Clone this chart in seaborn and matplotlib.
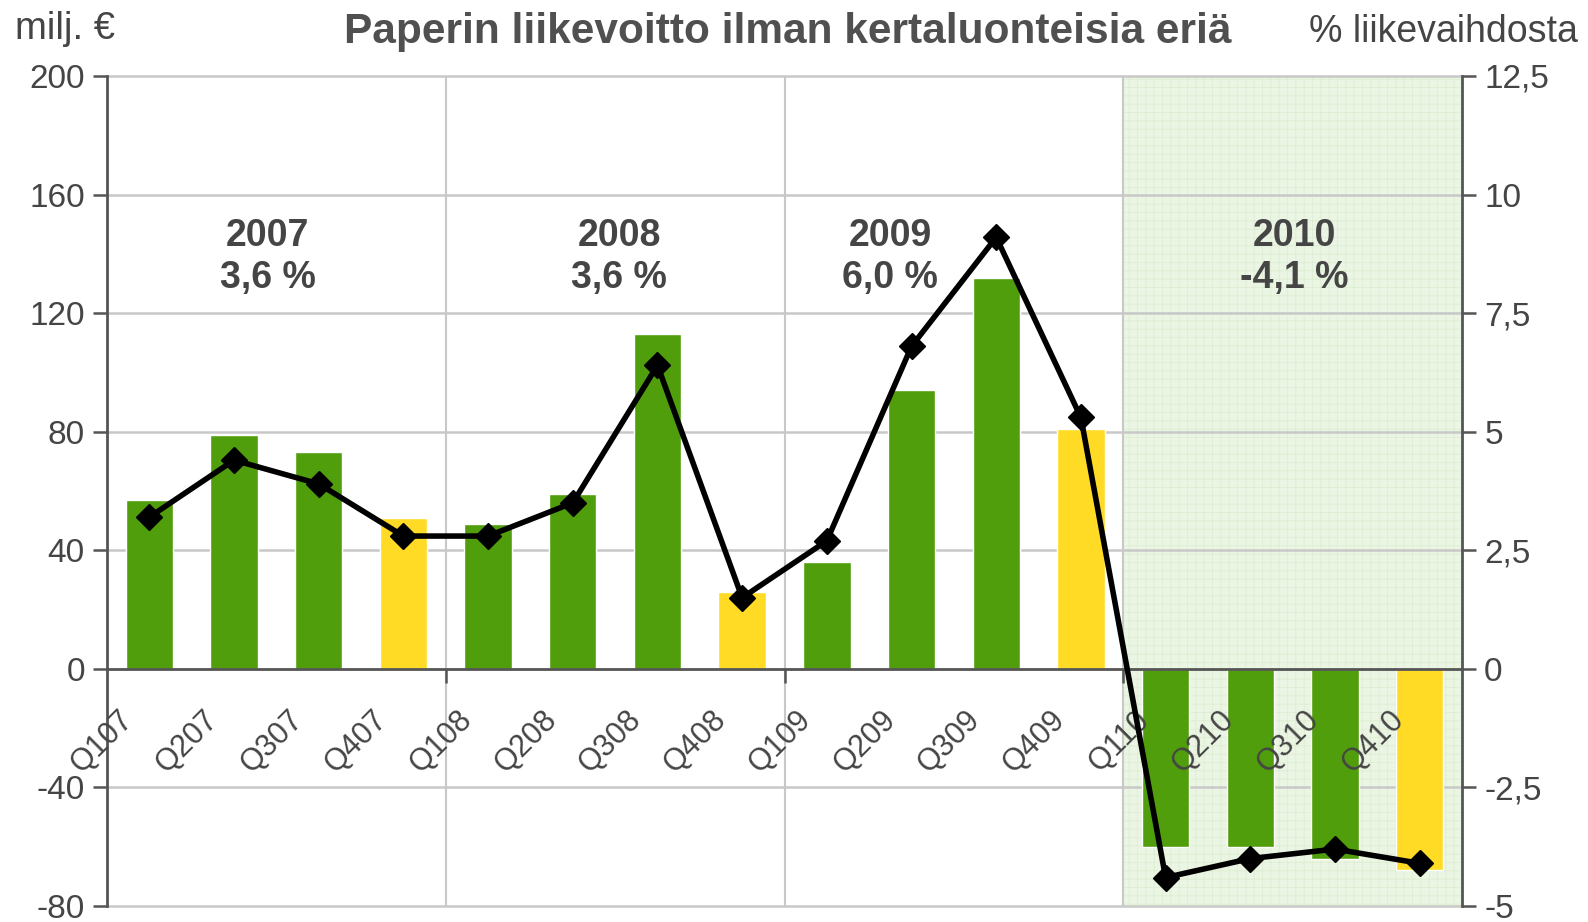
import numpy as np
import pandas as pd
import matplotlib
matplotlib.use('Agg')
import matplotlib.pyplot as plt
import matplotlib.transforms as mtransforms
import seaborn as sns

# data
quarters = ["Q107", "Q207", "Q307", "Q407", "Q108", "Q208", "Q308", "Q408",
            "Q109", "Q209", "Q309", "Q409", "Q110", "Q210", "Q310", "Q410"]
profit = [57, 79, 73, 51, 49, 59, 113, 26, 36, 94, 132, 81, -60, -60, -64, -68]
margin = [3.2, 4.4, 3.9, 2.8, 2.8, 3.5, 6.4, 1.5, 2.7, 6.8, 9.1, 5.3,
          -4.4, -4.0, -3.8, -4.1]
is_q4 = [False, False, False, True] * 4
years = ["2007", "2008", "2009", "2010"]
year_pct = ["3,6 %", "3,6 %", "6,0 %", "-4,1 %"]
left_ticks = [-80, -40, 0, 40, 80, 120, 160, 200]
right_ticks = [-5, -2.5, 0, 2.5, 5, 7.5, 10, 12.5]

GREEN = '#509e0c'
YELLOW = '#ffdb25'
TXT = '#454545'
GRID = '#c8c8c8'
AX = '#555555'

sns.set_theme(style='white')
plt.rcParams['font.family'] = ['Liberation Sans', 'DejaVu Sans']
plt.rcParams['hatch.linewidth'] = 0.5

df = pd.DataFrame({'quarter': quarters, 'profit': profit})
palette = {q: (YELLOW if q4 else GREEN) for q, q4 in zip(quarters, is_q4)}

fig = plt.figure(figsize=(15.88, 9.22), dpi=100)
ax = fig.add_axes([107 / 1588, 1 - 906 / 922, (1462 - 107) / 1588, (906 - 76) / 922])

# 2010 shaded area
ax.axvspan(11.5, 15.5, facecolor='#ebf5e3', edgecolor='#dcedcf', hatch='++',
           linewidth=0, zorder=0)
for xv in [3.5, 7.5, 11.5]:
    ax.axvline(xv, color=GRID, lw=1.5, zorder=0.6)
# horizontal gridlines kept under the bars
for yv in left_ticks:
    if yv != 0:
        ax.axhline(yv, color=GRID, lw=1.8, zorder=0.5, clip_on=False)

sns.barplot(data=df, x='quarter', y='profit', hue='quarter', palette=palette,
            legend=False, width=0.56, saturation=1, edgecolor='white',
            linewidth=1, ax=ax, zorder=2)

ax.set_ylim(-80, 200)
ax.set_yticks(left_ticks)
ax.set_yticklabels([str(v) for v in left_ticks])
ax.grid(False)
ax.set_axisbelow(False)
ax.set_xlabel('')
ax.set_ylabel('')

for s in ['top', 'right']:
    ax.spines[s].set_visible(False)
ax.spines['left'].set_color(AX)
ax.spines['left'].set_linewidth(2)
ax.spines['bottom'].set_position(('data', 0))
ax.spines['bottom'].set_color(AX)
ax.spines['bottom'].set_linewidth(2)
ax.spines['bottom'].set_zorder(3)

ax.tick_params(axis='y', left=True, length=10, width=1.8, color=AX,
               labelsize=24, labelcolor=TXT, pad=6)
ax.tick_params(axis='x', which='major', bottom=True, length=0,
               labelsize=22, labelcolor=TXT, pad=26)
ax.set_xticks([3.5, 7.5, 11.5], minor=True)
ax.tick_params(axis='x', which='minor', bottom=True, length=10, width=1.8,
               color=AX, direction='out')

shift = mtransforms.ScaledTranslation(-0.10, 0, fig.dpi_scale_trans)
for lab in ax.get_xticklabels():
    lab.set_rotation(45)
    lab.set_ha('right')
    lab.set_va('top')
    lab.set_transform(lab.get_transform() + shift)

# year annotations
year_x = [1.4, 5.55, 8.75, 13.52]
for xv, yr, pct in zip(year_x, years, year_pct):
    ax.text(xv, 139, f"{yr}\n{pct}", ha='center', va='center', fontsize=27,
            fontweight='bold', color=TXT, linespacing=1.2, zorder=4)

# operating margin line on right axis
ax2 = ax.twinx()
sns.lineplot(x=np.arange(len(quarters)), y=margin, ax=ax2, color='black',
             lw=4, marker='D', markersize=13, markeredgecolor='black',
             markeredgewidth=1)
ax2.set_ylim(-5, 12.5)
ax2.set_yticks(right_ticks)
ax2.set_yticklabels([f"{v:g}".replace('.', ',') for v in right_ticks])
ax2.tick_params(axis='y', right=True, length=10, width=1.8, color=AX,
                labelsize=24, labelcolor=TXT, pad=6)
for s in ['top', 'left', 'bottom']:
    ax2.spines[s].set_visible(False)
ax2.spines['right'].set_color(AX)
ax2.spines['right'].set_linewidth(2)
ax2.set_xlabel('')
ax2.set_ylabel('')
ax.set_xlim(-0.5, 15.5)

fig.text(0.496, 0.965, "Paperin liikevoitto ilman kertaluonteisia eriä",
         ha='center', va='center', fontsize=30.5, fontweight='bold', color='#505050')
fig.text(15 / 1588, 0.969, "milj. €", ha='left', va='center', fontsize=27.5, color=TXT)
fig.text(1578 / 1588, 0.965, "% liikevaihdosta", ha='right', va='center',
         fontsize=27, color=TXT)

fig.savefig('out.png', dpi=100)
